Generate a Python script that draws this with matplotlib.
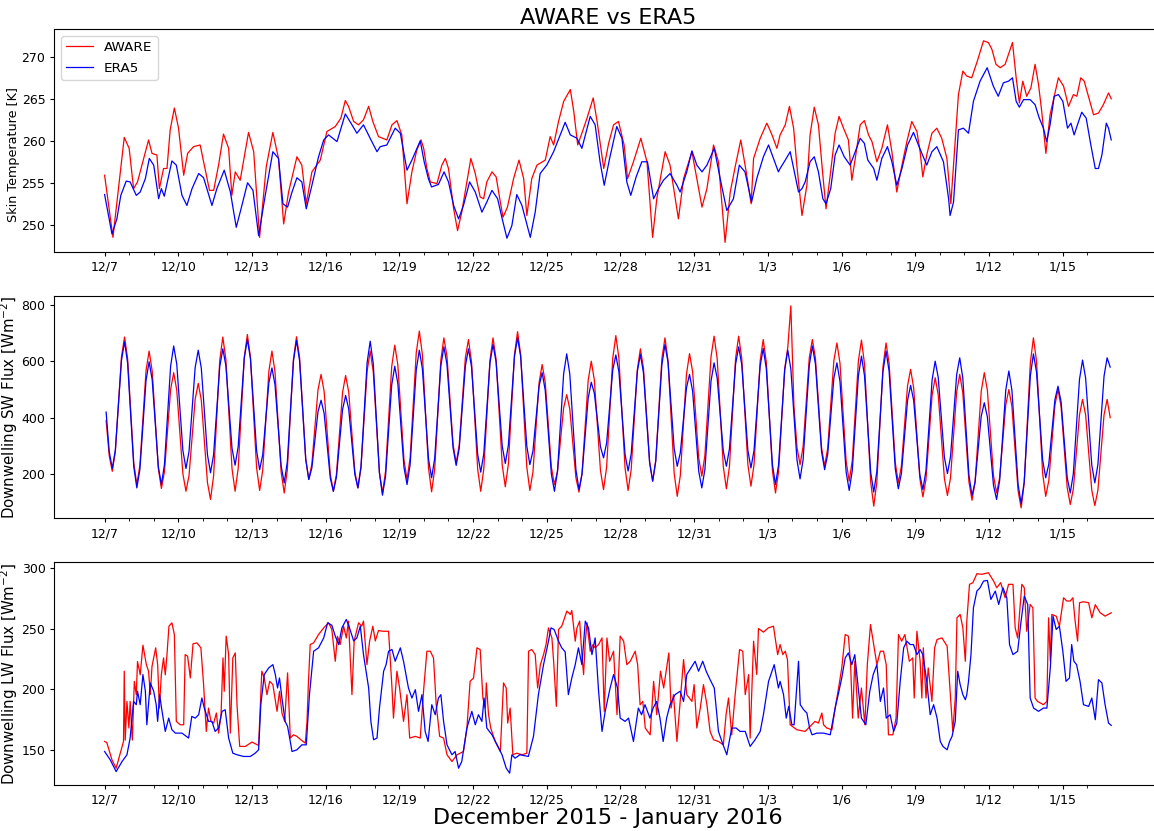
import numpy as np
import pandas as pd
import matplotlib
matplotlib.use("Agg")
import matplotlib.pyplot as plt

START = pd.Timestamp("2015-12-07")

# ---- skin temperature [K], times in days since 12/7 00 UTC ----
t_skin_aware = [
    0.00, 0.34, 0.80, 1.00, 1.18, 1.34, 1.52, 1.79, 1.93, 2.13, 2.23, 2.40, 2.54, 2.67, 2.84, 3.01,
    3.22, 3.38, 3.62, 3.89, 4.06, 4.27, 4.44, 4.64, 4.84, 5.05, 5.18, 5.32, 5.52, 5.86, 6.07, 6.31,
    6.58, 6.85, 7.08, 7.29, 7.49, 7.83, 8.03, 8.21, 8.44, 8.78, 9.05, 9.39, 9.62, 9.80, 9.93, 10.14,
    10.34, 10.54, 10.75, 10.92, 11.15, 11.49, 11.70, 11.90, 12.10, 12.31, 12.51, 12.71, 12.88, 12.99,
    13.12, 13.26, 13.53, 13.73, 13.87, 14.00, 14.21, 14.37, 14.54, 14.75, 14.91, 15.09, 15.29, 15.43,
    15.56, 15.77, 15.94, 16.11, 16.22, 16.40, 16.65, 16.87, 17.06, 17.19, 17.39, 17.60, 17.94, 18.14,
    18.28, 18.48, 18.69, 18.96, 19.10, 19.26, 19.43, 19.64, 19.89, 20.05, 20.32, 20.52, 20.72, 20.92,
    21.15, 21.29, 21.53, 21.83, 22.08, 22.31, 22.48, 22.82, 23.02, 23.36, 23.57, 23.91, 24.11, 24.32,
    24.52, 24.79, 24.99, 25.26, 25.47, 25.67, 25.90, 26.12, 26.32, 26.42, 26.69, 26.96, 27.17, 27.37,
    27.50, 27.71, 27.88, 28.05, 28.18, 28.39, 28.59, 28.72, 28.89, 29.06, 29.24, 29.37, 29.54, 29.74,
    29.90, 30.08, 30.28, 30.42, 30.56, 30.76, 30.93, 31.10, 31.24, 31.44, 31.64, 31.87, 32.05, 32.25,
    32.46, 32.66, 32.86, 33.07, 33.20, 33.31, 33.47, 33.68, 33.88, 34.08, 34.29, 34.45, 34.56, 34.76,
    34.94, 35.10, 35.30, 35.53, 35.78, 35.98, 36.12, 36.29, 36.46, 36.66, 36.80, 36.96, 37.11, 37.24,
    37.38, 37.54, 37.71, 37.88, 38.02, 38.15, 38.32, 38.49, 38.66, 38.83, 39.04, 39.24, 39.44, 39.58,
    39.74, 39.88, 40.05, 40.26, 40.46, 40.66, 40.87, 40.98,
]
skin_aware = [
    255.9, 248.5, 260.4, 259.1, 254.3, 255.1, 257.1, 260.1, 258.5, 258.3, 254.3, 256.7, 256.7, 261.3, 263.9, 261.5,
    255.9, 258.5, 259.3, 259.5, 257.1, 254.1, 254.1, 257.1, 260.8, 259.1, 253.5, 256.3, 255.3, 261.0, 258.7, 248.5,
    256.9, 261.0, 257.9, 250.1, 253.9, 258.1, 257.1, 252.5, 256.3, 257.7, 261.1, 261.7, 262.7, 264.8, 264.1, 262.3,
    261.9, 262.5, 264.1, 262.3, 260.5, 260.1, 261.9, 262.4, 260.7, 252.5, 256.3, 258.9, 260.1, 259.1,
    256.7, 255.1, 254.9, 257.1, 257.9, 256.7, 251.9, 249.3, 251.5, 255.1, 257.9, 256.1, 253.3, 253.1,
    255.1, 256.3, 255.7, 252.7, 250.9, 252.1, 255.5, 257.7, 255.5, 251.1, 255.5, 257.1, 257.7, 260.5,
    259.5, 262.3, 264.7, 266.1, 263.5, 259.5, 260.9, 262.7, 265.1, 262.3, 256.7, 259.7, 261.9, 262.3,
    259.5, 255.5, 257.5, 260.3, 257.5, 248.5, 253.1, 258.7, 257.1, 250.7, 255.5, 258.7, 255.5, 252.1,
    254.3, 259.5, 257.5, 247.9, 253.9, 256.9, 260.1, 256.3, 252.5, 257.9, 260.3, 262.1, 260.7, 259.1,
    260.7, 261.9, 264.1, 261.5, 257.1, 251.1, 254.7, 260.7, 264.0, 261.9, 255.9, 251.9, 255.9, 260.9,
    262.9, 261.5, 260.1, 255.3, 257.9, 261.9, 262.4, 260.7, 259.9, 257.5, 259.1, 261.9, 258.7, 253.9,
    257.1, 259.9, 262.3, 261.1, 258.7, 255.7, 258.3, 260.9, 261.5, 260.3, 257.9, 252.5, 257.1, 265.5,
    268.3, 267.7, 267.5, 269.5, 271.9, 271.7, 270.9, 269.1, 268.7, 269.1, 270.3, 271.7, 267.5, 264.5,
    267.1, 265.3, 266.3, 269.1, 266.7, 263.5, 258.5, 263.1, 265.3, 267.5, 266.5, 264.1, 265.5, 265.3,
    267.5, 267.1, 265.3, 263.1, 263.3, 264.3, 265.7, 265.0,
]

t_skin_era5 = [
    0.00, 0.30, 0.50, 0.66, 0.88, 1.04, 1.29, 1.45, 1.66, 1.82, 2.00, 2.20, 2.31, 2.43, 2.74, 2.92,
    3.15, 3.35, 3.56, 3.83, 4.03, 4.37, 4.57, 4.87, 5.12, 5.36, 5.59, 5.82, 6.04, 6.27, 6.54, 6.85,
    7.08, 7.26, 7.45, 7.63, 7.83, 8.03, 8.21, 8.44, 8.71, 8.92, 9.12, 9.46, 9.80, 10.07, 10.27, 10.54,
    10.81, 11.09, 11.22, 11.49, 11.83, 12.04, 12.31, 12.51, 12.85, 13.01, 13.18, 13.31, 13.59, 13.82,
    14.00, 14.21, 14.41, 14.61, 14.86, 15.09, 15.29, 15.36, 15.56, 15.77, 16.00, 16.17, 16.38, 16.58,
    16.78, 16.99, 17.33, 17.53, 17.73, 18.00, 18.28, 18.55, 18.75, 18.96, 19.23, 19.43, 19.77, 19.97,
    20.17, 20.34, 20.56, 20.85, 21.06, 21.26, 21.42, 21.64, 21.87, 22.10, 22.35, 22.55, 22.75, 23.02,
    23.30, 23.43, 23.70, 23.91, 24.11, 24.32, 24.52, 24.82, 25.06, 25.33, 25.60, 25.84, 26.07, 26.34,
    26.55, 26.82, 27.03, 27.23, 27.43, 27.50, 27.71, 27.91, 28.11, 28.25, 28.39, 28.52, 28.72, 28.89,
    29.06, 29.24, 29.37, 29.56, 29.74, 29.90, 30.11, 30.35, 30.56, 30.76, 30.93, 31.07, 31.31, 31.44,
    31.64, 31.87, 32.05, 32.25, 32.46, 32.69, 32.93, 33.13, 33.27, 33.47, 33.68, 33.88, 34.15, 34.36,
    34.42, 34.56, 34.76, 34.96, 35.17, 35.37, 35.64, 35.93, 36.18, 36.38, 36.59, 36.80, 36.96, 37.11,
    37.24, 37.41, 37.68, 37.88, 38.05, 38.22, 38.35, 38.49, 38.66, 38.83, 39.01, 39.20, 39.34, 39.47,
    39.65, 39.78, 39.96, 40.15, 40.33, 40.46, 40.60, 40.78, 40.87, 40.98,
]
skin_era5 = [
    253.6, 248.9, 250.7, 253.5, 255.2, 255.1, 253.5, 253.9, 255.5, 257.9, 257.1, 253.1, 254.3, 253.4, 257.6, 257.1,
    253.5, 252.3, 254.3, 256.1, 255.6, 252.3, 254.3, 256.5, 253.9, 249.7, 252.3, 255.0, 254.1, 248.7, 253.5, 258.7,
    257.9, 252.5, 252.1, 253.9, 255.6, 255.1, 251.9, 254.7, 258.1, 260.1, 260.7, 259.9, 263.2, 261.9, 260.9, 261.9,
    260.3, 258.7, 259.3, 259.5, 261.5, 260.9, 256.5, 257.7, 260.0, 257.5, 255.5, 254.5, 254.8, 256.3,
    255.1, 252.3, 250.7, 252.3, 255.1, 253.9, 252.1, 251.5, 252.7, 254.1, 253.1, 250.9, 248.4, 249.9,
    253.6, 252.3, 248.5, 251.5, 256.1, 257.1, 258.7, 260.7, 262.2, 260.7, 260.3, 259.1, 262.9, 261.9,
    257.5, 254.7, 257.9, 261.7, 260.3, 255.1, 253.5, 255.7, 257.5, 257.5, 253.1, 254.3, 255.3, 256.1,
    254.7, 253.9, 256.3, 258.8, 257.1, 256.3, 257.1, 259.1, 255.5, 251.7, 253.1, 257.1, 256.3, 252.7,
    255.5, 258.1, 259.5, 257.9, 256.3, 256.7, 257.7, 258.7, 255.9, 253.9, 254.3, 255.1, 257.5, 258.1,
    256.3, 253.1, 252.5, 254.3, 258.3, 259.5, 258.1, 257.1, 258.7, 260.3, 259.7, 257.7, 256.7, 255.3,
    257.9, 259.3, 257.5, 254.7, 256.7, 259.5, 261.0, 259.5, 258.5, 257.1, 258.7, 259.3, 257.5, 253.1,
    251.1, 252.7, 261.3, 261.5, 260.9, 264.7, 267.1, 268.7, 266.5, 265.3, 266.9, 267.1, 267.5, 264.7,
    264.0, 264.9, 264.9, 264.3, 262.7, 261.5, 259.9, 261.9, 265.3, 265.5, 264.7, 261.5, 262.1, 260.7,
    262.3, 263.4, 262.7, 259.5, 256.7, 256.7, 258.3, 262.1, 261.5, 260.1,
]

# ---- downwelling shortwave [W m-2], 3-hourly from 12/7 01:30 UTC, one row per day ----
sw_aware = [
    390, 265, 209, 279, 448, 617, 687, 610,
    425, 239, 162, 231, 400, 568, 637, 566,
    393, 219, 148, 208, 354, 500, 560, 498,
    349, 200, 138, 194, 330, 466, 522, 462,
    316, 169, 109, 193, 398, 603, 687, 607,
    413, 218, 138, 219, 417, 615, 696, 615,
    419, 222, 141, 213, 389, 565, 637, 563,
    385, 206, 132, 213, 410, 607, 688, 614,
    434, 254, 180, 235, 367, 499, 554, 493,
    346, 199, 138, 198, 344, 490, 550, 492,
    350, 208, 150, 221, 394, 566, 637, 563,
    385, 206, 132, 209, 395, 581, 658, 588,
    419, 250, 180, 257, 444, 631, 708, 624,
    422, 220, 136, 216, 410, 604, 684, 619,
    462, 304, 239, 303, 459, 614, 678, 599,
    408, 217, 138, 218, 411, 604, 684, 607,
    419, 231, 154, 235, 430, 625, 706, 624,
    424, 224, 141, 206, 365, 524, 589, 527,
    376, 224, 162, 209, 322, 435, 482, 431,
    309, 186, 135, 203, 368, 533, 601, 534,
    373, 211, 144, 224, 418, 612, 692, 612,
    417, 221, 141, 215, 393, 571, 645, 576,
    410, 243, 174, 248, 429, 610, 684, 602,
    402, 202, 120, 194, 374, 554, 628, 564,
    410, 256, 192, 265, 441, 617, 690, 611,
    419, 226, 147, 226, 419, 611, 690, 612,
    423, 234, 156, 232, 417, 602, 678, 598,
    405, 212, 132, 208, 391, 574, 650, 798,
    442, 294, 233, 298, 455, 613, 678, 612,
    452, 293, 227, 291, 446, 602, 666, 594,
    420, 246, 174, 247, 425, 603, 676, 590,
    380, 171, 85, 170, 375, 581, 666, 593,
    417, 241, 168, 227, 370, 513, 572, 506,
    345, 184, 118, 180, 330, 480, 542, 481,
    332, 184, 123, 186, 338, 491, 554, 489,
    330, 171, 106, 172, 333, 494, 560, 498,
    346, 194, 132, 186, 316, 446, 500, 439,
    289, 140, 79, 167, 381, 596, 684, 602,
    402, 202, 120, 175, 310, 445, 500, 440,
    295, 151, 91, 146, 278, 410, 465, 410,
    276, 142, 87, 142, 276, 410, 465, 400,
]
sw_era5 = [
    420, 280, 219, 285, 445, 604, 670, 594,
    410, 226, 150, 216, 375, 533, 599, 535,
    380, 226, 162, 234, 408, 583, 655, 591,
    437, 283, 219, 280, 430, 579, 640, 576,
    422, 268, 204, 268, 424, 581, 645, 585,
    438, 291, 231, 296, 454, 613, 678, 610,
    446, 283, 215, 268, 396, 524, 577, 517,
    372, 228, 168, 242, 421, 601, 675, 603,
    427, 252, 180, 221, 321, 421, 462, 415,
    300, 185, 138, 188, 308, 429, 479, 431,
    314, 198, 150, 226, 411, 596, 672, 592,
    398, 204, 124, 191, 353, 516, 583, 522,
    372, 223, 162, 232, 401, 570, 640, 574,
    413, 252, 186, 254, 419, 584, 652, 590,
    441, 292, 230, 291, 437, 584, 645, 581,
    425, 270, 206, 272, 433, 594, 660, 598,
    448, 299, 237, 302, 460, 619, 684, 618,
    458, 299, 233, 281, 396, 512, 560, 498,
    349, 200, 138, 209, 382, 556, 627, 556,
    385, 215, 144, 200, 335, 470, 526, 487,
    391, 296, 257, 310, 440, 570, 623, 563,
    416, 270, 210, 271, 417, 564, 625, 559,
    399, 240, 174, 245, 417, 589, 660, 597,
    443, 290, 227, 275, 390, 506, 554, 495,
    352, 209, 150, 215, 372, 530, 595, 541,
    411, 281, 227, 289, 439, 590, 652, 589,
    436, 284, 221, 283, 433, 584, 646, 575,
    404, 233, 162, 232, 401, 570, 640, 573,
    411, 249, 182, 251, 418, 586, 655, 591,
    435, 279, 215, 270, 405, 540, 595, 529,
    368, 207, 141, 211, 380, 549, 619, 548,
    377, 206, 135, 208, 386, 564, 637, 565,
    392, 219, 147, 201, 331, 461, 515, 461,
    330, 198, 144, 211, 373, 534, 601, 543,
    401, 259, 201, 261, 407, 553, 613, 541,
    368, 195, 123, 171, 288, 405, 453, 403,
    281, 159, 109, 176, 338, 499, 566, 497,
    330, 163, 94, 172, 361, 549, 627, 563,
    407, 250, 186, 234, 349, 464, 512, 457,
    322, 187, 132, 201, 369, 536, 605, 541,
    387, 232, 168, 233, 391, 548, 613, 580,
]

# ---- downwelling longwave [W m-2], times in days since 12/7 00 UTC ----
t_lw_aware = [
    0.00, 0.09, 0.30, 0.47, 0.66, 0.77, 0.80, 0.84, 0.91, 0.99, 1.04, 1.13, 1.21, 1.29, 1.34, 1.45,
    1.56, 1.70, 1.79, 1.86, 1.93, 2.08, 2.16, 2.23, 2.31, 2.40, 2.47, 2.54, 2.62, 2.74, 2.84, 2.92,
    3.08, 3.22, 3.28, 3.38, 3.49, 3.60, 3.76, 3.92, 4.03, 4.14, 4.23, 4.33, 4.44, 4.55, 4.64, 4.74,
    4.82, 4.87, 4.95, 5.05, 5.12, 5.22, 5.32, 5.39, 5.50, 5.73, 6.00, 6.27, 6.40, 6.50, 6.61, 6.72,
    6.85, 7.02, 7.12, 7.22, 7.33, 7.45, 7.56, 7.69, 7.83, 7.99, 8.17, 8.24, 8.30, 8.37, 8.51, 8.71,
    8.92, 9.12, 9.25, 9.39, 9.48, 9.59, 9.73, 9.84, 9.93, 10.07, 10.16, 10.34, 10.47, 10.54, 10.68, 10.79,
    10.92, 11.02, 11.15, 11.33, 11.56, 11.70, 11.76, 11.90, 12.01, 12.17, 12.31, 12.42, 12.65, 12.85, 12.99, 13.12,
    13.26, 13.39, 13.50, 13.64, 13.80, 13.94, 14.14, 14.35, 14.61, 14.75, 14.88, 15.02, 15.16, 15.29, 15.40, 15.50,
    15.54, 15.63, 15.72, 15.90, 16.11, 16.24, 16.35, 16.41, 16.51, 16.62, 16.78, 16.99, 17.19, 17.26, 17.39, 17.53,
    17.63, 17.74, 17.87, 17.97, 18.07, 18.21, 18.28, 18.39, 18.48, 18.61, 18.82, 18.96, 19.02, 19.16, 19.23, 19.34,
    19.43, 19.50, 19.57, 19.64, 19.77, 19.88, 19.97, 20.11, 20.25, 20.34, 20.45, 20.56, 20.72, 20.86, 20.99, 21.13,
    21.26, 21.40, 21.60, 21.70, 21.80, 21.91, 22.01, 22.21, 22.35, 22.48, 22.63, 22.76, 22.97, 23.06, 23.16, 23.30,
    23.43, 23.57, 23.70, 23.91, 24.00, 24.11, 24.25, 24.38, 24.52, 24.65, 24.79, 24.99, 25.19, 25.30, 25.40, 25.53,
    25.67, 25.85, 25.98, 26.08, 26.22, 26.28, 26.42, 26.55, 26.62, 26.82, 27.02, 27.23, 27.40, 27.50, 27.61, 27.71,
    27.80, 27.91, 28.18, 28.52, 28.72, 28.92, 29.06, 29.20, 29.27, 29.40, 29.61, 29.74, 29.88, 30.01, 30.15, 30.28,
    30.37, 30.45, 30.54, 30.68, 30.81, 30.95, 31.05, 31.18, 31.33, 31.44, 31.58, 31.71, 31.82, 31.91, 32.09, 32.22,
    32.32, 32.45, 32.58, 32.76, 32.90, 32.96, 33.07, 33.20, 33.27, 33.33, 33.44, 33.53, 33.68, 33.79, 33.89, 34.09,
    34.30, 34.43, 34.53, 34.63, 34.70, 34.83, 34.94, 35.04, 35.10, 35.21, 35.35, 35.51, 35.71, 35.98, 36.19, 36.32,
    36.48, 36.66, 36.80, 36.98, 37.07, 37.17, 37.34, 37.44, 37.54, 37.68, 37.79, 37.88, 37.98, 38.22, 38.36, 38.43,
    38.50, 38.56, 38.74, 38.87, 39.04, 39.17, 39.31, 39.42, 39.51, 39.61, 39.69, 39.85, 40.06, 40.19, 40.33, 40.53,
    40.73, 40.98,
]
lw_aware = [
    156.9, 156.0, 141.7, 134.8, 148.6, 156.9, 215.0, 158.0, 190.0, 168.0, 190.0, 158.0, 206.6, 195.6, 223.0, 212.0,
    236.5, 220.4, 215.0, 195.6, 219.0, 234.3, 220.4, 184.5, 212.0, 226.0, 212.0, 228.7, 252.2, 255.0, 245.3, 173.5,
    170.7, 170.7, 228.7, 227.4, 209.4, 237.6, 238.4, 234.3, 203.9, 165.2, 184.5, 173.5, 172.1, 180.4, 163.8, 179.0,
    226.0, 198.4, 244.0, 228.7, 163.8, 226.0, 230.1, 187.3, 152.8, 152.8, 156.4, 153.6, 215.0, 209.4, 195.6, 206.6,
    203.9, 181.8, 198.4, 180.4, 173.5, 213.6, 159.7, 162.4, 161.1, 158.3, 155.5, 173.5, 206.6, 237.0, 238.4, 245.3,
    250.8, 255.0, 249.5, 223.2, 243.9, 237.0, 252.2, 242.5, 256.4, 195.6, 240.0, 255.0, 252.2, 256.4, 220.4, 240.0,
    252.2, 240.0, 248.6, 248.0, 248.0, 201.1, 176.2, 215.0, 201.1, 173.5, 195.6, 159.7, 161.1, 159.7, 200.0, 231.5,
    231.5, 226.0, 187.3, 161.1, 159.7, 145.9, 140.3, 145.9, 148.6, 168.0, 206.6, 209.4, 234.3, 232.9, 192.8, 184.5,
    205.3, 179.0, 168.0, 156.9, 148.6, 205.3, 201.1, 172.1, 184.5, 145.9, 147.2, 145.9, 147.2, 231.5, 232.9, 228.7,
    201.1, 220.4, 228.7, 237.0, 250.8, 242.5, 223.2, 185.9, 249.5, 252.2, 264.7, 261.9, 265.2, 239.8, 250.8, 256.4,
    228.7, 212.2, 239.8, 255.0, 231.5, 237.0, 234.3, 237.0, 242.5, 181.8, 242.5, 223.2, 231.5, 179.0, 244.0, 239.8,
    220.4, 223.2, 231.5, 220.4, 187.3, 190.0, 168.0, 162.4, 206.6, 179.0, 215.0, 201.1, 230.1, 184.5, 195.6, 156.9,
    190.0, 224.6, 195.6, 190.0, 203.9, 168.0, 184.5, 203.9, 187.3, 165.2, 158.3, 156.9, 154.1, 179.0, 192.8, 162.4,
    195.6, 232.9, 231.5, 195.6, 212.2, 159.7, 239.8, 212.2, 250.3, 247.3, 250.8, 252.2, 228.7, 237.0, 228.7, 231.5,
    224.6, 170.7, 166.6, 165.2, 169.3, 173.5, 172.1, 180.4, 170.7, 168.0, 166.6, 184.5, 201.1, 217.7, 245.3, 244.0,
    220.4, 176.2, 223.2, 176.2, 201.1, 170.7, 220.4, 253.6, 234.3, 220.4, 231.5, 231.5, 220.4, 162.4, 162.4, 176.2,
    245.3, 239.8, 245.3, 223.2, 226.0, 192.8, 248.0, 223.2, 192.8, 234.3, 192.8, 217.7, 190.0, 234.3, 241.2, 242.5,
    235.6, 195.6, 165.2, 192.8, 259.1, 261.9, 250.8, 223.2, 256.4, 286.8, 288.2, 295.6, 295.1, 296.4, 289.5, 284.0,
    288.2, 275.7, 286.8, 286.8, 250.8, 242.5, 286.8, 284.0, 248.0, 270.2, 267.4, 192.8, 190.0, 187.3, 190.0, 259.1,
    223.2, 261.9, 260.5, 252.2, 275.7, 273.0, 273.0, 275.7, 256.4, 239.8, 271.6, 272.4, 271.6, 259.1, 270.0, 263.3,
    260.5, 263.3,
]

t_lw_era5 = [
    0.00, 0.23, 0.47, 0.71, 0.91, 1.04, 1.18, 1.29, 1.34, 1.45, 1.56, 1.66, 1.72, 1.86, 2.00, 2.10,
    2.16, 2.24, 2.33, 2.47, 2.61, 2.74, 2.88, 3.15, 3.42, 3.55, 3.69, 3.83, 3.96, 4.06, 4.23, 4.37,
    4.50, 4.64, 4.78, 4.91, 5.05, 5.22, 5.39, 5.66, 5.93, 6.13, 6.27, 6.36, 6.50, 6.68, 6.85, 6.95,
    7.04, 7.12, 7.22, 7.35, 7.45, 7.56, 7.63, 7.83, 8.03, 8.21, 8.34, 8.51, 8.71, 8.92, 9.08, 9.25,
    9.39, 9.53, 9.66, 9.84, 9.97, 10.14, 10.27, 10.41, 10.54, 10.75, 10.84, 10.95, 11.09, 11.19, 11.36, 11.46,
    11.56, 11.70, 11.83, 12.04, 12.17, 12.37, 12.51, 12.65, 12.78, 12.92, 13.05, 13.17, 13.32, 13.46, 13.59, 13.69,
    13.80, 13.94, 14.14, 14.27, 14.41, 14.54, 14.75, 14.95, 15.09, 15.22, 15.36, 15.45, 15.56, 15.77, 15.98, 16.18,
    16.35, 16.49, 16.58, 16.71, 16.91, 17.25, 17.46, 17.66, 17.87, 18.07, 18.17, 18.30, 18.48, 18.61, 18.75, 18.88,
    19.02, 19.16, 19.29, 19.43, 19.57, 19.70, 19.84, 19.97, 20.11, 20.25, 20.38, 20.58, 20.72, 20.88, 20.99, 21.19,
    21.33, 21.53, 21.73, 21.86, 22.00, 22.20, 22.33, 22.47, 22.61, 22.74, 22.88, 23.02, 23.22, 23.43, 23.57, 23.70,
    23.87, 24.04, 24.18, 24.35, 24.49, 24.65, 24.82, 24.99, 25.13, 25.33, 25.53, 25.71, 25.87, 26.08, 26.28, 26.48,
    26.69, 26.82, 27.03, 27.26, 27.43, 27.50, 27.64, 27.75, 27.85, 27.98, 28.07, 28.25, 28.32, 28.46, 28.59, 28.70,
    28.80, 29.00, 29.27, 29.54, 29.74, 29.88, 30.01, 30.15, 30.28, 30.42, 30.54, 30.68, 30.81, 30.99, 31.15, 31.29,
    31.44, 31.58, 31.71, 31.82, 31.98, 32.12, 32.25, 32.39, 32.53, 32.66, 32.80, 32.93, 33.07, 33.20, 33.31, 33.47,
    33.61, 33.75, 33.89, 34.02, 34.13, 34.30, 34.40, 34.50, 34.63, 34.73, 34.83, 34.94, 35.04, 35.10, 35.17, 35.27,
    35.37, 35.51, 35.64, 35.78, 35.94, 36.08, 36.26, 36.40, 36.57, 36.73, 36.84, 36.98, 37.17, 37.31, 37.44, 37.58,
    37.68, 37.82, 38.02, 38.22, 38.36, 38.50, 38.61, 38.74, 38.87, 39.01, 39.14, 39.28, 39.37, 39.46, 39.57, 39.71,
    39.85, 40.06, 40.19, 40.33, 40.46, 40.60, 40.73, 40.87, 40.98,
]
lw_era5 = [
    148.6, 141.7, 132.0, 140.3, 145.9, 159.7, 190.0, 187.3, 198.4, 187.3, 212.2, 198.4, 170.7, 205.3, 198.4, 187.3,
    173.5, 195.6, 183.1, 165.2, 176.2, 166.6, 163.8, 163.8, 159.7, 177.6, 176.2, 179.0, 192.8, 184.5, 173.5, 173.5,
    165.2, 168.0, 181.8, 183.1, 159.7, 147.2, 145.9, 144.5, 144.5, 147.2, 150.0, 187.3, 212.2, 217.7, 220.4, 212.2,
    201.1, 209.4, 192.8, 173.5, 169.3, 156.9, 148.6, 150.0, 154.1, 154.1, 195.6, 231.5, 234.3, 242.5, 255.0, 253.0,
    244.0, 237.0, 250.8, 257.8, 250.8, 240.0, 242.5, 252.2, 228.7, 201.1, 173.5, 158.3, 159.7, 184.5, 215.0, 220.4,
    231.5, 232.9, 223.2, 234.3, 223.2, 201.1, 192.8, 199.7, 181.8, 195.6, 165.2, 156.9, 187.3, 179.0, 192.8, 195.6,
    173.5, 154.1, 145.9, 148.6, 134.8, 140.3, 168.0, 181.8, 170.7, 179.0, 173.5, 192.8, 168.0, 162.4, 154.1, 145.9,
    134.8, 130.7, 145.9, 143.1, 145.9, 144.5, 161.1, 195.6, 220.4, 239.8, 250.8, 249.5, 239.8, 234.3, 231.0, 195.6,
    209.4, 220.4, 234.3, 220.4, 256.4, 250.8, 228.7, 242.5, 198.4, 165.2, 181.8, 201.1, 212.2, 201.1, 176.2, 173.5,
    176.2, 156.9, 184.5, 179.0, 187.3, 176.2, 184.5, 190.0, 176.2, 156.9, 176.2, 187.3, 195.6, 198.4, 190.0, 212.2,
    217.7, 223.2, 215.0, 223.2, 215.0, 208.0, 201.1, 165.2, 156.9, 145.9, 168.0, 168.0, 165.2, 165.2, 152.8, 158.3,
    165.2, 179.0, 206.6, 220.4, 201.1, 206.6, 195.6, 176.2, 185.9, 170.7, 170.7, 223.2, 187.3, 183.1, 180.4, 168.0,
    162.4, 163.8, 163.8, 162.4, 184.5, 197.0, 209.4, 226.0, 230.1, 220.4, 228.7, 201.1, 176.2, 170.7, 198.4, 212.2,
    220.4, 190.0, 201.1, 176.2, 179.0, 165.2, 172.1, 206.6, 234.3, 239.8, 237.0, 237.0, 228.7, 232.9, 228.7, 206.6,
    179.0, 187.3, 176.2, 156.9, 152.8, 150.0, 156.9, 161.1, 173.5, 215.0, 203.9, 195.6, 191.4, 195.6, 206.6, 228.7,
    267.4, 281.2, 284.0, 289.5, 290.0, 274.3, 281.2, 270.2, 284.0, 275.7, 237.0, 228.7, 231.5, 256.4, 277.1, 270.2,
    192.8, 184.5, 181.8, 184.5, 184.5, 217.7, 260.5, 249.5, 252.2, 231.5, 206.6, 209.4, 237.0, 223.2, 220.4, 206.6,
    187.3, 185.9, 192.8, 174.9, 208.0, 205.3, 187.3, 172.1, 170.2,
]

tick_labels = ["12/7", "12/10", "12/13", "12/16", "12/19", "12/22", "12/25",
               "12/28", "12/31", "1/3", "1/6", "1/9", "1/12", "1/15"]


def to_dates(days):
    return START + pd.to_timedelta(np.asarray(days, dtype=float), unit="D")


def style_time_axis(ax, label_y=0.5):
    major = pd.date_range("2015-12-07", "2016-01-15", freq="3D")
    minor = pd.date_range("2015-12-07", "2016-01-16", freq="D")
    ax.set_xticks(major)
    ax.set_xticklabels(tick_labels)
    ax.set_xticks(minor, minor=True)
    ax.set_xlim(START - pd.Timedelta(days=2.05), START + pd.Timedelta(days=43.05))
    ax.tick_params(which="major", labelsize=9, length=3.15, pad=3.15)
    ax.tick_params(which="minor", length=1.8)
    ax.yaxis.set_label_coords(-0.031, label_y)


def main():
    sw_times = pd.date_range("2015-12-07 01:30", periods=len(sw_aware), freq="3h")

    fig, axes = plt.subplots(3, 1, figsize=(11.54, 8.31), dpi=100)
    fig.subplots_adjust(left=0.047, right=1.007, top=0.965, bottom=0.0555, hspace=0.198)
    lw = 0.9

    ax = axes[0]
    ax.plot(to_dates(t_skin_aware), skin_aware, color="red", lw=lw, label="AWARE")
    ax.plot(to_dates(t_skin_era5), skin_era5, color="blue", lw=lw, label="ERA5")
    ax.set_ylim(246.8, 273.3)
    ax.set_ylabel("Skin Temperature [K]", fontsize=9.2)
    ax.set_title("AWARE vs ERA5", fontsize=16, pad=4)
    ax.legend(loc="upper left", fontsize=9.7, labelspacing=0.55)
    style_time_axis(ax, label_y=0.435)

    ax = axes[1]
    ax.plot(sw_times, sw_aware, color="red", lw=lw)
    ax.plot(sw_times, sw_era5, color="blue", lw=lw)
    ax.set_ylim(42, 834)
    ax.set_yticks([200, 400, 600, 800])
    ax.set_ylabel("Downwelling SW Flux [Wm$^{-2}$]", fontsize=10.8)
    style_time_axis(ax)

    ax = axes[2]
    ax.plot(to_dates(t_lw_aware), lw_aware, color="red", lw=lw)
    ax.plot(to_dates(t_lw_era5), lw_era5, color="blue", lw=lw)
    ax.set_ylim(121, 305)
    ax.set_yticks([150, 200, 250, 300])
    ax.set_ylabel("Downwelling LW Flux [Wm$^{-2}$]", fontsize=10.8)
    ax.set_xlabel("December 2015 - January 2016", fontsize=16, labelpad=1)
    style_time_axis(ax)

    fig.savefig("out.png", dpi=100)
    plt.close(fig)


if __name__ == "__main__":
    main()
